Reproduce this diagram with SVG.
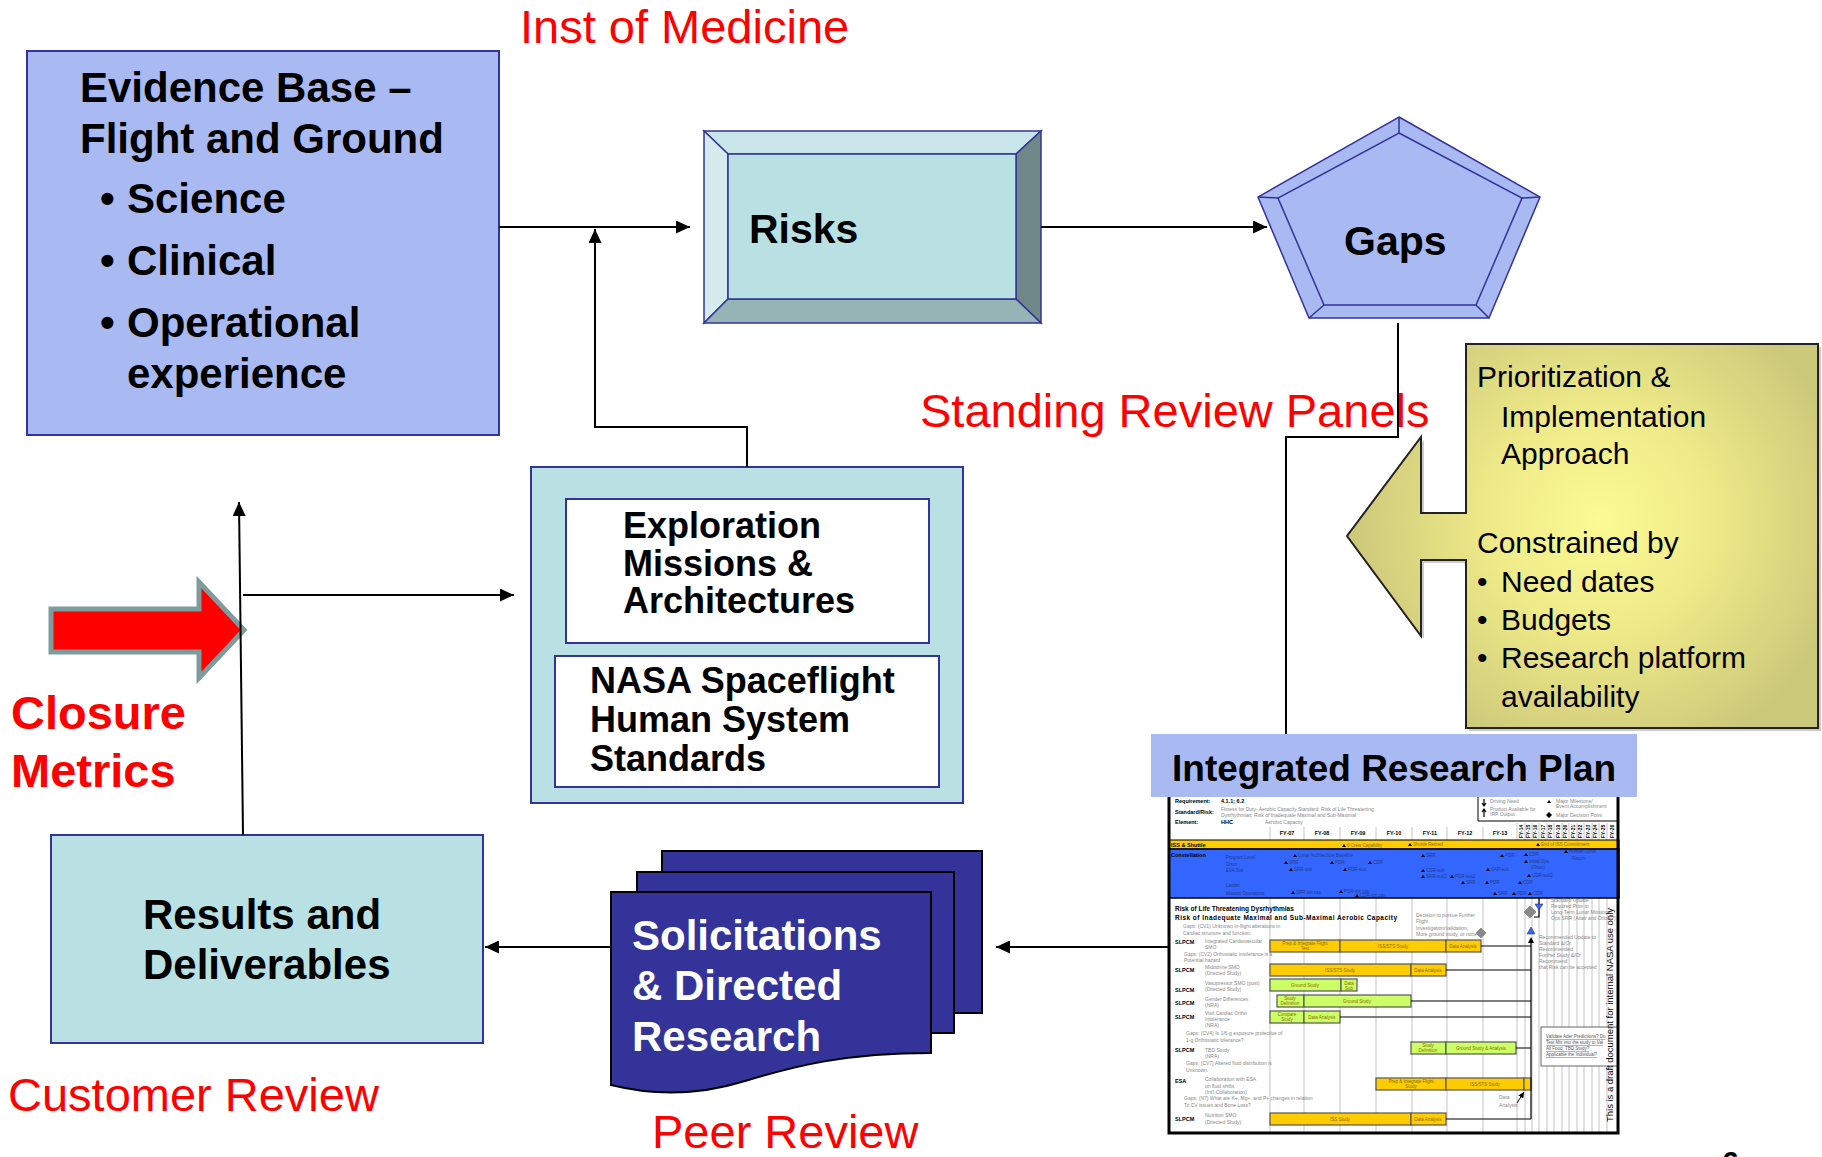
<svg xmlns="http://www.w3.org/2000/svg" width="1822" height="1157" viewBox="0 0 1822 1157">
<defs>
  <marker id="ah" markerUnits="userSpaceOnUse" markerWidth="14" markerHeight="13" refX="14" refY="6.5" orient="auto">
    <path d="M0,0 L14,6.5 L0,13 z" fill="#000"/>
  </marker>
  <marker id="ahs" markerUnits="userSpaceOnUse" markerWidth="6" markerHeight="6" refX="6" refY="3" orient="auto">
    <path d="M0,0 L6,3 L0,6 z" fill="#000"/>
  </marker>
  <radialGradient id="olive" gradientUnits="userSpaceOnUse" cx="1600" cy="520" r="250">
    <stop offset="0" stop-color="#FBFA94"/>
    <stop offset="0.45" stop-color="#EEEA88"/>
    <stop offset="1" stop-color="#CCC87A"/>
  </radialGradient>
  <path id="tri" d="M0,-3 L2,0 L-2,0 z" fill="#000"/>
</defs>
<style>
  text { font-family: "Liberation Sans", Arial, Helvetica, sans-serif; }
  .b { font-weight: bold; }
  .lbl { fill: #FF0000; font-size: 47px; }
  .edge { stroke: #333399; stroke-width: 2; }
  .bev { stroke: #333399; stroke-width: 1.5; }
  .conn { fill: none; stroke: #000; stroke-width: 2; }
  .grid { stroke: #C4C4C4; stroke-width: 1; }
  .yb { fill: #FFCC00; stroke: #555; stroke-width: 1.2; }
  .gb { fill: #CCFF66; stroke: #555; stroke-width: 1.2; }
  .gl { fill: none; stroke: #000; stroke-width: 1.2; }
  .t5 { font-size: 5px; fill: #888; }
  .tb { font-size: 5.5px; font-weight: bold; fill: #000; }
  .fy { font-size: 5.5px; font-weight: bold; fill: #000; text-anchor: middle; }
  .fyv { font-size: 5px; font-weight: bold; fill: #000; }
  .ms { font-size: 4.5px; fill: #233a8a; }
  .iss { font-size: 4.5px; fill: #8a6a00; }
  .bt { font-size: 4.5px; fill: #8a6a00; text-anchor: middle; }
  .ul { font-size: 4.5px; fill: #555; text-decoration: underline; }
</style>

<rect width="1822" height="1157" fill="#fff"/>

<!-- review labels -->
<g id="labels">
  <text class="lbl" x="520" y="43">Inst of Medicine</text>
  <text class="lbl" x="920" y="427">Standing Review Panels</text>
  <text class="lbl b" x="11" y="729">Closure</text>
  <text class="lbl b" x="11" y="787">Metrics</text>
  <text class="lbl" x="8" y="1111">Customer Review</text>
  <text class="lbl" x="652" y="1148">Peer Review</text>
</g>

<!-- Evidence base -->
<g id="evidence-base">
  <rect x="27" y="51" width="472" height="384" fill="#A9B9F2" class="edge"/>
  <g class="b" font-size="42" fill="#000">
    <text x="80" y="102">Evidence Base –</text>
    <text x="80" y="153">Flight and Ground</text>
    <text x="100" y="213">•</text><text x="127" y="213">Science</text>
    <text x="100" y="275">•</text><text x="127" y="275">Clinical</text>
    <text x="100" y="337">•</text><text x="127" y="337">Operational</text>
    <text x="127" y="388">experience</text>
  </g>
</g>

<!-- Risks (bevelled box) -->
<g id="risks">
  <polygon points="704,131 1041,131 1016,154 728,154" fill="#C8E6EA" class="bev"/>
  <polygon points="704,131 728,154 728,299 704,323" fill="#D5EBEE" class="bev"/>
  <polygon points="1041,131 1041,323 1016,299 1016,154" fill="#718888" class="bev"/>
  <polygon points="704,323 728,299 1016,299 1041,323" fill="#96B3B5" class="bev"/>
  <rect x="728" y="154" width="288" height="145" fill="#B9E0E3" class="bev"/>
  <text class="b" font-size="41" x="749" y="243">Risks</text>
</g>

<!-- Gaps (bevelled pentagon) -->
<g id="gaps">
  <polygon points="1399,117 1540,197 1489,318 1309,318 1258,197" fill="#A9B9F2" class="bev"/>
  <polygon points="1399,133 1522,198 1476,305 1324,305 1278,198" fill="#A9B9F2" class="bev"/>
  <path d="M1399,117 L1399,133 M1540,197 L1522,198 M1489,318 L1476,305 M1309,318 L1324,305 M1258,197 L1278,198" class="bev" fill="none"/>
  <text class="b" font-size="41" x="1344" y="255">Gaps</text>
</g>

<!-- Exploration missions and standards -->
<g id="exploration-standards">
  <rect x="531" y="467" width="432" height="336" fill="#B9E0E3" class="edge"/>
  <rect x="566" y="499" width="363" height="144" fill="#fff" class="edge"/>
  <rect x="555" y="656" width="384" height="131" fill="#fff" class="edge"/>
  <g class="b" font-size="36" fill="#000">
    <text x="623" y="538">Exploration</text>
    <text x="623" y="576">Missions &amp;</text>
    <text x="623" y="613">Architectures</text>
    <text x="590" y="693">NASA Spaceflight</text>
    <text x="590" y="732">Human System</text>
    <text x="590" y="771">Standards</text>
  </g>
</g>

<!-- Prioritization / constraints callout -->
<g id="prioritization">
  <polygon points="1469,347 1821,347 1821,731 1469,731 1469,563 1424,563 1424,639 1350,539 1424,440 1424,516 1469,516" fill="#9a9a9a" opacity="0.5"/>
  <polygon points="1466,344 1818,344 1818,728 1466,728 1466,560 1421,560 1421,636 1347,536 1421,437 1421,513 1466,513" fill="url(#olive)" stroke="#222" stroke-width="2"/>
  <g font-size="30" fill="#000">
    <text x="1477" y="387">Prioritization &amp;</text>
    <text x="1501" y="427">Implementation</text>
    <text x="1501" y="464">Approach</text>
    <text x="1477" y="553">Constrained by</text>
    <text x="1477" y="592">•</text><text x="1501" y="592">Need dates</text>
    <text x="1477" y="630">•</text><text x="1501" y="630">Budgets</text>
    <text x="1477" y="668">•</text><text x="1501" y="668">Research platform</text>
    <text x="1501" y="707">availability</text>
  </g>
</g>

<!-- Results and deliverables -->
<g id="results">
  <rect x="51" y="835" width="432" height="208" fill="#B9E0E3" class="edge"/>
  <text class="b" font-size="42" x="143" y="929">Results and</text>
  <text class="b" font-size="42" x="143" y="979">Deliverables</text>
</g>

<!-- Solicitations: stacked document pages -->
<g id="solicitations">
  <rect x="662" y="851" width="320" height="162" fill="#333399" stroke="#000" stroke-width="2"/>
  <rect x="637" y="872" width="317" height="161" fill="#333399" stroke="#000" stroke-width="2"/>
  <path d="M611,892 H931 V1053 C845,1053 795,1066 745,1081 C700,1095 655,1096 611,1085 Z" fill="#333399" stroke="#000" stroke-width="2"/>
  <g class="b" font-size="42" fill="#fff">
    <text x="632" y="950">Solicitations</text>
    <text x="632" y="1000">&amp; Directed</text>
    <text x="632" y="1051">Research</text>
  </g>
</g>

<!-- Closure metrics arrow -->
<g id="closure-arrow">
  <polygon points="51,609 199,609 199,582 244,630 199,678 199,652 51,652" fill="#FF0000" stroke="#7F9C9C" stroke-width="5"/>
</g>

<!-- Integrated research plan: chart -->
<g id="integrated-research-plan">
  <rect x="1169" y="797" width="450" height="337" fill="#fff"/>
  <!-- grid -->
  <g class="grid">
    <path d="M1270,827 V1133 M1304,827 V1133 M1340,827 V1133 M1376,827 V1133 M1412,827 V1133 M1447,827 V1133 M1483,827 V1133 M1517,823 V1133 M1525,823 V1133 M1532,823 V1133 M1539,823 V1133 M1547,823 V1133 M1554,823 V1133 M1562,823 V1133 M1569,823 V1133 M1577,823 V1133 M1584,823 V1133 M1592,823 V1133 M1599,823 V1133 M1607,823 V1133"/>
  </g>
  <!-- header block -->
  <text class="tb" x="1175" y="803">Requirement:</text>
  <text class="tb" x="1221" y="803">4.1.1; 6.2</text>
  <text class="tb" x="1175" y="814">Standard/Risk:</text>
  <text class="t5" x="1221" y="811">Fitness for Duty- Aerobic Capacity Standard; Risk of Life Threatening</text>
  <text class="t5" x="1221" y="817">Dysrhythmias; Risk of Inadequate Maximal and Sub-Maximal</text>
  <text class="tb" x="1175" y="824">Element:</text>
  <text class="tb" x="1221" y="824">HHC</text>
  <text class="t5" x="1265" y="824">Aerobic Capacity</text>
  <!-- legend -->
  <path d="M1478,797 V821 H1619" fill="none" stroke="#000" stroke-width="1"/>
  <path d="M1484,799 V805 M1482,803 L1484,806 L1486,803 M1484,810 V817 M1482,812 L1484,809 L1486,812" stroke="#000" stroke-width="1.2" fill="none"/>
  <text class="t5" x="1490" y="803">Driving Need</text>
  <text class="t5" x="1490" y="811">Product Available for</text>
  <text class="t5" x="1490" y="816">IRP Output</text>
  <use href="#tri" x="1549" y="803"/>
  <polygon points="1549,812 1552,815 1549,818 1546,815" fill="#000"/>
  <text class="t5" x="1556" y="803">Major Milestone/</text>
  <text class="t5" x="1556" y="808">Event Accomplishment</text>
  <text class="t5" x="1556" y="817">Major Decision Point</text>
  <!-- fiscal years -->
  <text class="fy" x="1287" y="835">FY-07</text>
  <text class="fy" x="1322" y="835">FY-08</text>
  <text class="fy" x="1358" y="835">FY-09</text>
  <text class="fy" x="1394" y="835">FY-10</text>
  <text class="fy" x="1430" y="835">FY-11</text>
  <text class="fy" x="1465" y="835">FY-12</text>
  <text class="fy" x="1500" y="835">FY-13</text>
  <g class="fyv">
    <text transform="translate(1523,838) rotate(-90)">FY-14</text>
    <text transform="translate(1530,838) rotate(-90)">FY-15</text>
    <text transform="translate(1537,838) rotate(-90)">FY-16</text>
    <text transform="translate(1545,838) rotate(-90)">FY-17</text>
    <text transform="translate(1552,838) rotate(-90)">FY-18</text>
    <text transform="translate(1560,838) rotate(-90)">FY-19</text>
    <text transform="translate(1567,838) rotate(-90)">FY-20</text>
    <text transform="translate(1575,838) rotate(-90)">FY-21</text>
    <text transform="translate(1582,838) rotate(-90)">FY-22</text>
    <text transform="translate(1590,838) rotate(-90)">FY-23</text>
    <text transform="translate(1597,838) rotate(-90)">FY-24</text>
    <text transform="translate(1605,838) rotate(-90)">FY-25</text>
    <text transform="translate(1614,838) rotate(-90)">FY-26</text>
  </g>
  <!-- ISS & Shuttle row -->
  <rect x="1169" y="840" width="450" height="9" fill="#FFCC00" stroke="#000" stroke-width="1"/>
  <text class="tb" x="1171" y="847">ISS &amp; Shuttle</text>
  <use href="#tri" x="1344" y="847"/><text class="iss" x="1347" y="847">6 Crew Capability</text>
  <use href="#tri" x="1410" y="846"/><text class="iss" x="1413" y="846">Shuttle Retired</text>
  <use href="#tri" x="1538" y="846"/><text class="iss" x="1541" y="846">End of ISS Commitment</text>
  <!-- Constellation row -->
  <rect x="1169" y="849" width="450" height="49" fill="#3366FF" stroke="#000" stroke-width="1.5"/>
  <text class="tb" x="1171" y="857">Constellation</text>
  <g class="ms">
    <text x="1226" y="859">Program Level</text>
    <text x="1226" y="866">Orion</text>
    <text x="1226" y="872">EVA Suit</text>
    <text x="1226" y="887">Lander</text>
    <text x="1226" y="895">Mission Operations</text>
    <text x="1298" y="857">Lunar Architecture Baseline</text>
    <text x="1289" y="864">SRR</text><text x="1335" y="864">PDR</text><text x="1373" y="864">CDR</text>
    <text x="1294" y="871">SRR-suit</text><text x="1348" y="871">PDR-suit</text>
    <text x="1426" y="857">SRR</text>
    <text x="1426" y="872">CDR-suit</text><text x="1426" y="878">SRR-suit2</text><text x="1455" y="878">PDR-suit2</text>
    <text x="1466" y="884">SRR</text><text x="1490" y="884">PDR</text>
    <text x="1296" y="894">SRR-init cap</text><text x="1344" y="893">PDR-init cap</text><text x="1360" y="897">CDR-init cap</text>
    <text x="1491" y="871">SAR-suit</text><text x="1505" y="857">PDR</text><text x="1529" y="856">CDR</text>
    <text x="1529" y="863">Initial Ops</text><text x="1531" y="869">(Orion)</text>
    <text x="1532" y="877">CDR-suit2</text><text x="1523" y="884">CDR</text>
    <text x="1498" y="895">SRR</text><text x="1517" y="895">PDR</text><text x="1533" y="895">CDR</text>
    <text x="1569" y="853">Human Lunar</text><text x="1572" y="860">Return</text>
  </g>
  <g>
    <use href="#tri" x="1295" y="857"/><use href="#tri" x="1286" y="864"/><use href="#tri" x="1332" y="864"/><use href="#tri" x="1370" y="864"/>
    <use href="#tri" x="1291" y="871"/><use href="#tri" x="1345" y="871"/><use href="#tri" x="1423" y="857"/>
    <use href="#tri" x="1423" y="872"/><use href="#tri" x="1423" y="878"/><use href="#tri" x="1452" y="878"/>
    <use href="#tri" x="1463" y="884"/><use href="#tri" x="1487" y="884"/>
    <use href="#tri" x="1293" y="894"/><use href="#tri" x="1341" y="893"/><use href="#tri" x="1357" y="897"/>
    <use href="#tri" x="1488" y="871"/><use href="#tri" x="1502" y="857"/><use href="#tri" x="1526" y="856"/>
    <use href="#tri" x="1526" y="863"/><use href="#tri" x="1529" y="877"/><use href="#tri" x="1520" y="884"/>
    <use href="#tri" x="1495" y="895"/><use href="#tri" x="1514" y="895"/><use href="#tri" x="1530" y="895"/>
    <use href="#tri" x="1566" y="853"/>
  </g>
  <!-- risk titles and gaps -->
  <text class="b" font-size="6.5" x="1175" y="911">Risk of Life Threatening Dysrhythmias</text>
  <text class="b" font-size="6.5" x="1175" y="920" textLength="222">Risk of Inadequate Maximal and Sub-Maximal Aerobic Capacity</text>
  <text class="t5" x="1183" y="928">Gaps: (CV1) Unknown in-flight alterations in</text>
  <text class="t5" x="1183" y="935">Cardiac structure and function.</text>
  <text class="t5" x="1416" y="917">Decision to pursue Further</text>
  <text class="t5" x="1416" y="923">Flight</text>
  <text class="t5" x="1416" y="930">Investigation/validation;</text>
  <text class="t5" x="1416" y="936">More ground study, or none</text>
  <text class="t5" x="1184" y="956">Gaps: (CV2) Orthostatic intolerance is a</text>
  <text class="t5" x="1184" y="962">Potential hazard</text>
  <text class="t5" x="1186" y="1035">Gaps: (CV4) Is 1/6-g exposure protective of</text>
  <text class="t5" x="1186" y="1042">1-g Orthostatic tolerance?</text>
  <text class="t5" x="1186" y="1065">Gaps: (CV7) Altered fluid distribution is</text>
  <text class="t5" x="1186" y="1072">Unknown.</text>
  <text class="t5" x="1184" y="1100">Gaps: (N7) What are K+, Mg+, and P+ changes in relation</text>
  <text class="t5" x="1184" y="1107">To CV issues and Bone Loss?</text>
  <!-- task labels -->
  <text class="tb" x="1175" y="944">SLPCM</text>
  <text class="t5" x="1205" y="943">Integrated Cardiovascular</text><text class="t5" x="1205" y="949">SMO</text>
  <text class="tb" x="1175" y="972">SLPCM</text>
  <text class="t5" x="1205" y="969">Midodrine SMO</text><text class="t5" x="1205" y="975">(Directed Study)</text>
  <text class="tb" x="1175" y="992">SLPCM</text>
  <text class="t5" x="1205" y="985">Vasopressor SMO (post)</text><text class="t5" x="1205" y="991">(Directed Study)</text>
  <text class="tb" x="1175" y="1005">SLPCM</text>
  <text class="t5" x="1205" y="1001">Gender Differences</text><text class="t5" x="1205" y="1007">(NRA)</text>
  <text class="tb" x="1175" y="1019">SLPCM</text>
  <text class="t5" x="1205" y="1015">Visit Cardiac Ortho</text><text class="t5" x="1205" y="1021">Intolerance</text><text class="t5" x="1205" y="1027">(NRA)</text>
  <text class="tb" x="1175" y="1052">SLPCM</text>
  <text class="t5" x="1205" y="1052">TBD Study</text><text class="t5" x="1205" y="1058">(NRA)</text>
  <text class="tb" x="1175" y="1083">ESA</text>
  <text class="t5" x="1205" y="1081">Collaboration with ESA</text><text class="t5" x="1205" y="1088">on fluid shifts</text><text class="t5" x="1205" y="1094">(Int'l Collaboration)</text>
  <text class="tb" x="1175" y="1121">SLPCM</text>
  <text class="t5" x="1205" y="1117">Nutrition SMO</text><text class="t5" x="1205" y="1124">(Directed Study)</text>
  <!-- bars -->
  <rect class="yb" x="1270" y="940" width="70" height="12"/><rect class="yb" x="1340" y="940" width="106" height="12"/><rect class="yb" x="1446" y="940" width="35" height="12"/>
  <rect class="yb" x="1270" y="964" width="141" height="12"/><rect class="yb" x="1411" y="964" width="35" height="12"/>
  <rect class="gb" x="1270" y="979" width="71" height="12"/><rect class="gb" x="1341" y="979" width="16" height="12"/>
  <rect class="gb" x="1277" y="995" width="27" height="12"/><rect class="gb" x="1304" y="995" width="107" height="12"/>
  <rect class="gb" x="1270" y="1011" width="34" height="12"/><rect class="gb" x="1304" y="1011" width="36" height="12"/>
  <rect class="gb" x="1411" y="1042" width="35" height="12"/><rect class="gb" x="1446" y="1042" width="70" height="12"/>
  <rect class="yb" x="1376" y="1078" width="70" height="12"/><rect class="yb" x="1446" y="1078" width="78" height="12"/><rect class="yb" x="1524" y="1078" width="7" height="12"/>
  <rect class="yb" x="1270" y="1113" width="141" height="12"/><rect class="yb" x="1411" y="1113" width="35" height="12"/>
  <g class="bt">
    <text x="1305" y="945">Prep &amp; Integrate Flight</text><text x="1305" y="950">Test</text>
    <text x="1393" y="947.5">ISS/STS Study</text><text x="1463" y="947.5">Data Analysis</text>
    <text x="1340" y="971.5">ISS/STS Study</text><text x="1428" y="971.5">Data Analysis</text>
    <text x="1305" y="986.5">Ground Study</text><text x="1349" y="984.5">Data</text><text x="1349" y="989.5">Sub</text>
    <text x="1290" y="1000">Study</text><text x="1290" y="1005">Definition</text><text x="1357" y="1002.5">Ground Study</text>
    <text x="1287" y="1016">Compare</text><text x="1287" y="1021">Study</text><text x="1322" y="1018.5">Data Analysis</text>
    <text x="1428" y="1047">Study</text><text x="1428" y="1052">Definition</text><text x="1481" y="1049.5">Ground Study &amp; Analysis</text>
    <text x="1411" y="1083">Prep &amp; Integrate Flight</text><text x="1411" y="1088">Study</text><text x="1485" y="1085.5">ISS/STS Study</text>
    <text x="1340" y="1120.5">ISS Study</text><text x="1428" y="1120.5">Data Analysis</text>
  </g>
  <!-- decision logic -->
  <path class="gl" d="M1481,946 H1531 M1446,970 H1531 M1411,1001 H1531 M1340,1017 H1531 M1516,1048 H1531 M1446,1119 H1531 M1531,942 V1119 M1539,898 V917 H1534"/>
  <polygon points="1481,928 1486,933 1481,938 1476,933" fill="#888" stroke="#666" stroke-width="0.5"/>
  <polygon points="1530,906 1536,912 1530,918 1524,912" fill="#888" stroke="#666" stroke-width="0.5"/>
  <polygon points="1535,904 1543,904 1539,910" fill="#3366FF" stroke="#223" stroke-width="0.5"/>
  <polygon points="1527,934 1535,934 1531,927" fill="#3366FF" stroke="#223" stroke-width="0.5"/>
  <polygon points="1528,943 1534,943 1531,937" fill="#000"/>
  <line x1="1517" y1="1103" x2="1524" y2="1092" stroke="#000" stroke-width="1" marker-end="url(#ahs)"/>
  <text class="t5" x="1499" y="1099">Data</text><text class="t5" x="1499" y="1107">Analysis</text>
  <text class="t5" x="1551" y="902">Standard Update</text>
  <text class="t5" x="1551" y="908">Required Prior to</text>
  <text class="t5" x="1551" y="914">Long-Term Lunar Missions</text>
  <text class="t5" x="1551" y="920">Ops SRR (Altair and Orion ?)</text>
  <text class="t5" x="1539" y="939">Recommended Update to</text>
  <text class="t5" x="1539" y="945">Standard &amp;/Or</text>
  <text class="t5" x="1539" y="951">Recommended</text>
  <text class="t5" x="1539" y="957">Further Study &amp;/Or</text>
  <text class="t5" x="1539" y="963">Recommend</text>
  <text class="t5" x="1539" y="969">that Risk can be accepted</text>
  <rect x="1541" y="1027" width="77" height="39" fill="#fff" stroke="#666" stroke-width="1"/>
  <text class="ul" x="1546" y="1038">Validate Ader Predictions? Do</text>
  <text class="ul" x="1546" y="1044">Test Mix into the study to Val</text>
  <text class="ul" x="1546" y="1050">All Food, TBD Study?</text>
  <text class="ul" x="1546" y="1056">Applicable the Individual?</text>
  <text font-size="9.5" fill="#000" transform="translate(1613,1122) rotate(-90)" textLength="214">This is a draft document for internal NASA use only</text>
  <!-- frame -->
  <path d="M1169,797 V1133 H1618 V797" fill="none" stroke="#000" stroke-width="3"/>
  <!-- title band -->
  <rect x="1151" y="734" width="486" height="63" fill="#A9B9F2"/>
  <text class="b" font-size="37" x="1172" y="781">Integrated Research Plan</text>
</g>

<!-- connectors -->
<g id="connectors">
  <path class="conn" d="M499,227 H690" marker-end="url(#ah)"/>
  <path class="conn" d="M747,467 V427 H595 V229" marker-end="url(#ah)"/>
  <path class="conn" d="M1041,227 H1267" marker-end="url(#ah)"/>
  <path class="conn" d="M1398,323 V437 H1286 V734"/>
  <path class="conn" d="M1169,947 H996" marker-end="url(#ah)"/>
  <path class="conn" d="M611,947 H485" marker-end="url(#ah)"/>
  <path class="conn" d="M243,835 L239,502" marker-end="url(#ah)"/>
  <path class="conn" d="M243,595 H514" marker-end="url(#ah)"/>
</g>

<!-- page number -->
<text class="b" font-size="30" x="1722" y="1172">6</text>
</svg>
